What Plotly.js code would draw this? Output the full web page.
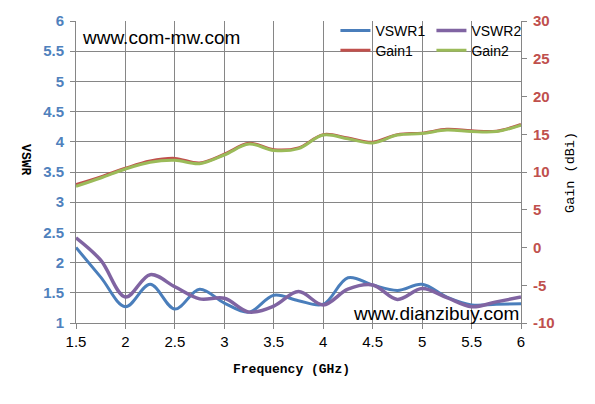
<!DOCTYPE html>
<html>
<head>
<meta charset="utf-8">
<script src="https://cdn.plot.ly/plotly-3.0.1.min.js"></script>
<style>
html,body{margin:0;padding:0;background:#fff;}
#chart{width:595px;height:404px;}
</style>
</head>
<body>
<div id="chart"></div>
<script>
var freq = [1.5,1.75,2.0,2.25,2.5,2.75,3.0,3.25,3.5,3.75,4.0,4.25,4.5,4.75,5.0,5.25,5.5,5.75,6.0];
var vswr1 = [2.25,1.76,1.27,1.64,1.23,1.56,1.33,1.18,1.46,1.37,1.31,1.75,1.63,1.54,1.64,1.43,1.30,1.31,1.32];
var vswr2 = [2.41,2.04,1.43,1.80,1.60,1.40,1.41,1.18,1.28,1.52,1.30,1.56,1.63,1.39,1.57,1.42,1.27,1.35,1.43];
var gain1 = [8.35,9.35,10.5,11.45,11.8,11.2,12.35,13.8,12.95,13.2,14.95,14.5,13.95,14.95,15.15,15.65,15.45,15.4,16.3];
var gain2 = [8.1,9.2,10.4,11.3,11.55,11.1,12.25,13.7,12.85,13.1,14.9,14.4,13.85,14.9,15.1,15.55,15.35,15.35,16.2];
var xTicks = [1.5,2,2.5,3,3.5,4,4.5,5,5.5,6];
var xTickText = ['1.5','2','2.5','3','3.5','4','4.5','5','5.5','6'];
var vswrTicks = [1,1.5,2,2.5,3,3.5,4,4.5,5,5.5,6];
var vswrTickText = ['1','1.5','2','2.5','3','3.5','4','4.5','5','5.5','6'];
var gainTicks = [-10,-5,0,5,10,15,20,25,30];
var gainTickText = ['-10','-5','0','5','10','15','20','25','30'];

var traces = [
  {x:freq,y:vswr1,name:'VSWR1',type:'scatter',mode:'lines',line:{color:'#4A7EBB',width:3,shape:'spline',smoothing:1},legend:'legend',hoverinfo:'skip'},
  {x:freq,y:vswr2,name:'VSWR2',type:'scatter',mode:'lines',line:{color:'#8064A2',width:3.5,shape:'spline',smoothing:1},legend:'legend',hoverinfo:'skip'},
  {x:freq,y:gain1,name:'Gain1',type:'scatter',mode:'lines',yaxis:'y2',line:{color:'#C0504D',width:3,shape:'spline',smoothing:1},legend:'legend2',hoverinfo:'skip'},
  {x:freq,y:gain2,name:'Gain2',type:'scatter',mode:'lines',yaxis:'y2',line:{color:'#9BBB59',width:3,shape:'spline',smoothing:1},legend:'legend2',hoverinfo:'skip'}
];

var legendFont = {family:'Liberation Sans, Arial, sans-serif',size:14,color:'#000'};
var layout = {
  width:595,height:404,
  margin:{l:76,r:74,t:21,b:81,pad:0,autoexpand:false},
  paper_bgcolor:'#fff',plot_bgcolor:'#fff',
  showlegend:true,
  xaxis:{range:[1.5,6],tickvals:xTicks,ticktext:xTickText,showgrid:true,gridcolor:'#868686',gridwidth:1,
    zeroline:false,showline:true,linecolor:'#868686',linewidth:1,ticks:'outside',ticklen:5,tickcolor:'#868686',
    tickfont:{family:'Liberation Sans, Arial, sans-serif',size:15,color:'#000'},mirror:false,automargin:false},
  yaxis:{range:[1,6],tickvals:vswrTicks,ticktext:vswrTickText,showgrid:true,gridcolor:'#868686',gridwidth:1,
    zeroline:false,showline:true,linecolor:'#868686',linewidth:1,ticks:'outside',ticklen:5,tickcolor:'#868686',
    ticklabelstandoff:3,automargin:false,
    tickfont:{family:'Liberation Sans, Arial, sans-serif',size:15,color:'#4F81BD',weight:'bold'}},
  yaxis2:{range:[-10,30],tickvals:gainTicks,ticktext:gainTickText,overlaying:'y',side:'right',showgrid:false,
    zeroline:false,showline:true,linecolor:'#868686',linewidth:1,ticks:'outside',ticklen:5,tickcolor:'#868686',
    ticklabelstandoff:3,automargin:false,
    tickfont:{family:'Liberation Sans, Arial, sans-serif',size:15,color:'#C0504D',weight:'bold'}},
  legend:{orientation:'h',x:0.583,xanchor:'left',y:1.02,yanchor:'top',bgcolor:'rgba(0,0,0,0)',
    font:legendFont,entrywidth:51,entrywidthmode:'pixels',itemwidth:30,tracegroupgap:0},
  legend2:{orientation:'h',x:0.583,xanchor:'left',y:0.955,yanchor:'top',bgcolor:'rgba(0,0,0,0)',
    font:legendFont,entrywidth:51,entrywidthmode:'pixels',itemwidth:30,tracegroupgap:0},
  annotations:[
    {text:'www.com-mw.com',xref:'paper',yref:'paper',x:0.01,y:0.945,xanchor:'left',yanchor:'middle',showarrow:false,
      font:{family:'Liberation Sans, Arial, sans-serif',size:19,color:'#000'}},
    {text:'www.dianzibuy.com',xref:'paper',yref:'paper',x:1.0,y:0.032,xanchor:'right',yanchor:'middle',showarrow:false,
      font:{family:'Liberation Sans, Arial, sans-serif',size:19,color:'#000'}},
    {text:'<b>VSWR</b>',xref:'paper',yref:'paper',x:-0.115,y:0.54,xanchor:'center',yanchor:'middle',showarrow:false,textangle:90,
      font:{family:'Liberation Mono, monospace',size:13,color:'#000'}},
    {text:'Gain (dBi)',xref:'paper',yref:'paper',x:1.11,y:0.5,xanchor:'center',yanchor:'middle',showarrow:false,textangle:-90,
      font:{family:'Liberation Mono, monospace',size:13.5,color:'#000'}},
    {text:'<b>Frequency (GHz)</b>',xref:'paper',yref:'paper',x:0.485,y:-0.155,xanchor:'center',yanchor:'middle',showarrow:false,
      font:{family:'Liberation Mono, monospace',size:13,color:'#000'}}
  ]
};
Plotly.newPlot('chart',traces,layout,{staticPlot:true,displayModeBar:false});
</script>
</body>
</html>
